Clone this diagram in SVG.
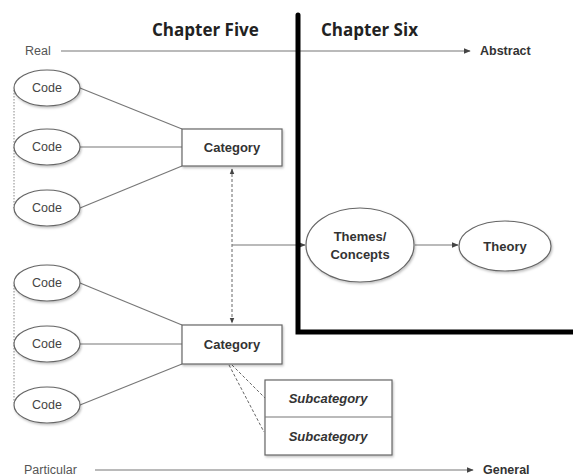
<svg xmlns="http://www.w3.org/2000/svg" width="573" height="476" viewBox="0 0 573 476">
  <style>
    .title { font-family: "Open Sans", "Liberation Sans", sans-serif; font-weight: bold; font-size: 17px; fill: #222; }
    .axis { font-family: "Liberation Sans", Arial, sans-serif; font-size: 12.5px; fill: #555; }
    .axisb { font-family: "Liberation Sans", Arial, sans-serif; font-size: 12.5px; font-weight: bold; fill: #333; }
    .lbl { font-family: "Liberation Sans", Arial, sans-serif; font-size: 12.5px; fill: #444; text-anchor: middle; }
    .lblb { font-family: "Liberation Sans", Arial, sans-serif; font-size: 13px; font-weight: bold; fill: #333; text-anchor: middle; }
    .lbli { font-family: "Liberation Sans", Arial, sans-serif; font-size: 13px; font-weight: bold; font-style: italic; fill: #333; text-anchor: middle; }
    .shape { fill: #fff; stroke: #666; stroke-width: 1.2; filter: url(#shadow); }
    .line { fill: none; stroke: #777; stroke-width: 1.2; }
    .dash { fill: none; stroke: #666; stroke-width: 1; stroke-dasharray: 3 2; }
    .dot { fill: none; stroke: #888; stroke-width: 1; stroke-dasharray: 1.5 1.5; }
    .thick { fill: none; stroke: #000; stroke-width: 5; stroke-linecap: round; }
  </style>
  <defs>
    <filter id="shadow" x="-20%" y="-20%" width="140%" height="150%">
      <feDropShadow dx="1" dy="1.5" stdDeviation="1" flood-color="#000" flood-opacity="0.25"/>
    </filter>
    <marker id="arr" viewBox="0 0 10 10" refX="9" refY="5" markerWidth="6" markerHeight="6" orient="auto-start-reverse">
      <path d="M0,1 L10,5 L0,9 z" fill="#444"/>
    </marker>
  </defs>

  <rect width="573" height="476" fill="#fff"/>

  <!-- chapter headings -->
  <text class="title" x="152" y="36">Chapter Five</text>
  <text class="title" x="321" y="36">Chapter Six</text>

  <!-- axes -->
  <text class="axis" x="25" y="55">Real</text>
  <text class="axisb" x="480" y="55">Abstract</text>
  <text class="axis" x="24" y="474">Particular</text>
  <text class="axisb" x="483" y="474">General</text>

  <g id="connectors">
    <line class="line" x1="61" y1="51" x2="470" y2="51" marker-end="url(#arr)"/>
    <line class="line" x1="95" y1="470" x2="473" y2="470" marker-end="url(#arr)"/>
    <!-- codes to upper category -->
    <line class="line" x1="80" y1="88" x2="182" y2="129"/>
    <line class="line" x1="80" y1="147" x2="182" y2="147"/>
    <line class="line" x1="80" y1="208" x2="182" y2="166"/>
    <!-- codes to lower category -->
    <line class="line" x1="80" y1="283" x2="182" y2="325"/>
    <line class="line" x1="80" y1="344" x2="182" y2="344"/>
    <line class="line" x1="80" y1="405" x2="182" y2="364"/>
    <!-- dotted code brackets -->
    <line class="dot" x1="14" y1="90" x2="14" y2="208"/>
    <line class="dot" x1="14" y1="285" x2="14" y2="405"/>
    <!-- categories linked to each other -->
    <line class="dash" x1="232" y1="169" x2="232" y2="323" marker-start="url(#arr)" marker-end="url(#arr)"/>
    <!-- categories to themes -->
    <line class="line" x1="232" y1="245" x2="305" y2="245" marker-end="url(#arr)"/>
    <!-- themes to theory -->
    <line class="line" x1="415" y1="245" x2="458" y2="245" marker-end="url(#arr)"/>
    <!-- category to subcategories -->
    <line class="dash" x1="232" y1="365" x2="265" y2="398"/>
    <line class="dash" x1="229" y1="365" x2="264" y2="432"/>
  </g>

  <!-- chapter divider -->
  <path class="thick" d="M298,15 V332 H575"/>

  <g id="code1"><ellipse class="shape" cx="47" cy="88" rx="33" ry="18"/><text class="lbl" x="47" y="92">Code</text></g>
  <g id="code2"><ellipse class="shape" cx="47" cy="147" rx="33" ry="18"/><text class="lbl" x="47" y="151">Code</text></g>
  <g id="code3"><ellipse class="shape" cx="47" cy="208" rx="33" ry="18"/><text class="lbl" x="47" y="212">Code</text></g>
  <g id="code4"><ellipse class="shape" cx="47" cy="283" rx="33" ry="18"/><text class="lbl" x="47" y="287">Code</text></g>
  <g id="code5"><ellipse class="shape" cx="47" cy="344" rx="33" ry="18"/><text class="lbl" x="47" y="348">Code</text></g>
  <g id="code6"><ellipse class="shape" cx="47" cy="405" rx="33" ry="18"/><text class="lbl" x="47" y="409">Code</text></g>

  <g id="category1"><rect class="shape" x="182" y="129" width="100" height="37"/><text class="lblb" x="232" y="152">Category</text></g>
  <g id="category2"><rect class="shape" x="182" y="325" width="100" height="39"/><text class="lblb" x="232" y="349">Category</text></g>

  <g id="subcategories">
    <rect class="shape" x="265" y="380" width="127" height="75"/>
    <line class="line" x1="265" y1="417" x2="392" y2="417"/>
    <text class="lbli" x="328" y="403">Subcategory</text>
    <text class="lbli" x="328" y="441">Subcategory</text>
  </g>

  <g id="themes"><ellipse class="shape" cx="360" cy="245" rx="54" ry="37"/><text class="lblb" x="360" y="241">Themes/</text><text class="lblb" x="360" y="259">Concepts</text></g>
  <g id="theory"><ellipse class="shape" cx="505" cy="246" rx="46" ry="25"/><text class="lblb" x="505" y="251">Theory</text></g>
</svg>
